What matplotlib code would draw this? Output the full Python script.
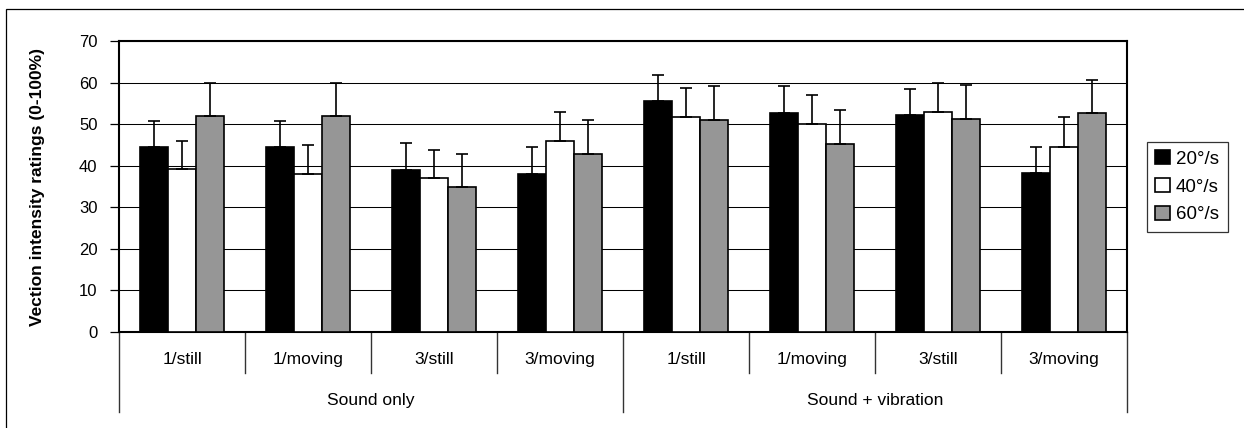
import matplotlib
matplotlib.use("Agg")
import matplotlib.pyplot as plt
import numpy as np
from matplotlib.patches import Patch, Rectangle
from matplotlib.transforms import blended_transform_factory

plt.rcParams["font.family"] = ["Liberation Sans", "DejaVu Sans"]

# data
categories = ["1/still", "1/moving", "3/still", "3/moving",
              "1/still", "1/moving", "3/still", "3/moving"]
groups = ["Sound only", "Sound + vibration"]
series = ["20°/s", "40°/s", "60°/s"]
colors = ["#000000", "#ffffff", "#969696"]

mean_20 = [44.4, 44.4, 39.0, 38.0, 55.6, 52.6, 52.1, 38.2]
mean_40 = [39.1, 38.0, 37.0, 46.0, 51.6, 50.1, 52.9, 44.5]
mean_60 = [51.9, 51.9, 35.0, 42.9, 51.0, 45.2, 51.3, 52.6]
err_20 = [6.4, 6.4, 6.5, 6.4, 6.3, 6.5, 6.3, 6.4]
err_40 = [6.9, 6.9, 6.9, 6.9, 7.1, 6.9, 7.1, 7.1]
err_60 = [8.1, 8.1, 7.9, 8.0, 8.1, 8.1, 8.0, 8.0]

means = [mean_20, mean_40, mean_60]
errs = [err_20, err_40, err_60]

fig = plt.figure(figsize=(12.44, 4.28), dpi=100)
ax = fig.add_axes([119 / 1244, 96 / 428, 1008 / 1244, 291 / 428])

x = np.arange(len(categories))
w = 0.222
for k in range(3):
    ax.bar(x + (k - 1) * w, means[k], w, color=colors[k], edgecolor="black",
           linewidth=1.2, zorder=3)
    ax.errorbar(x + (k - 1) * w, means[k], yerr=[np.zeros(len(x)), errs[k]],
                fmt="none", ecolor="black", elinewidth=1.2, capsize=4.3,
                capthick=1.2, zorder=4)

ax.set_xlim(-0.5, len(categories) - 0.5)
ax.set_ylim(0, 70)
ax.set_yticks(range(0, 71, 10))
ax.yaxis.grid(True, color="black", linewidth=0.75)
ax.set_axisbelow(True)
ax.tick_params(axis="y", direction="out", length=6.5, width=0.9, pad=9,
               labelsize=12)
ax.set_xticks([])
for s in ax.spines.values():
    s.set_linewidth(1.5)

ax.set_ylabel("Vection intensity ratings (0-100%)", fontsize=12.5,
              fontweight="bold")
ax.yaxis.set_label_coords(-0.073, 0.5)

# two-level category axis
tr = blended_transform_factory(ax.transData, ax.transAxes)
for i in range(len(categories) + 1):
    outer = i % 4 == 0
    ax.plot([i - 0.5, i - 0.5], [0, -0.275 if outer else -0.141],
            color="#333333", linewidth=1, transform=tr, clip_on=False)
for i, c in enumerate(categories):
    ax.text(i, -0.096, c, transform=tr, ha="center", va="center", fontsize=12.5)
for j, g in enumerate(groups):
    ax.text(j * 4 + 1.5, -0.234, g, transform=tr, ha="center", va="center",
            fontsize=12.5)

handles = [Patch(facecolor=colors[k], edgecolor="black", linewidth=1.2,
                 label=series[k]) for k in range(3)]
leg = fig.legend(handles=handles, loc="upper left",
                 bbox_to_anchor=(1147 / 1244, 1 - 142 / 428),
                 frameon=True, fancybox=False, fontsize=13.5,
                 handlelength=0.8, handleheight=0.75, handletextpad=0.3,
                 borderaxespad=0, borderpad=0.45, labelspacing=0.55)
leg.get_frame().set_edgecolor("black")
leg.get_frame().set_linewidth(0.9)

# outer chart border
fig.patches.append(Rectangle((6 / 1244, -0.05), 1.1, 1.05 - 9 / 428,
                             transform=fig.transFigure, fill=False,
                             edgecolor="black", linewidth=0.9))

fig.savefig("out.png", dpi=100)
